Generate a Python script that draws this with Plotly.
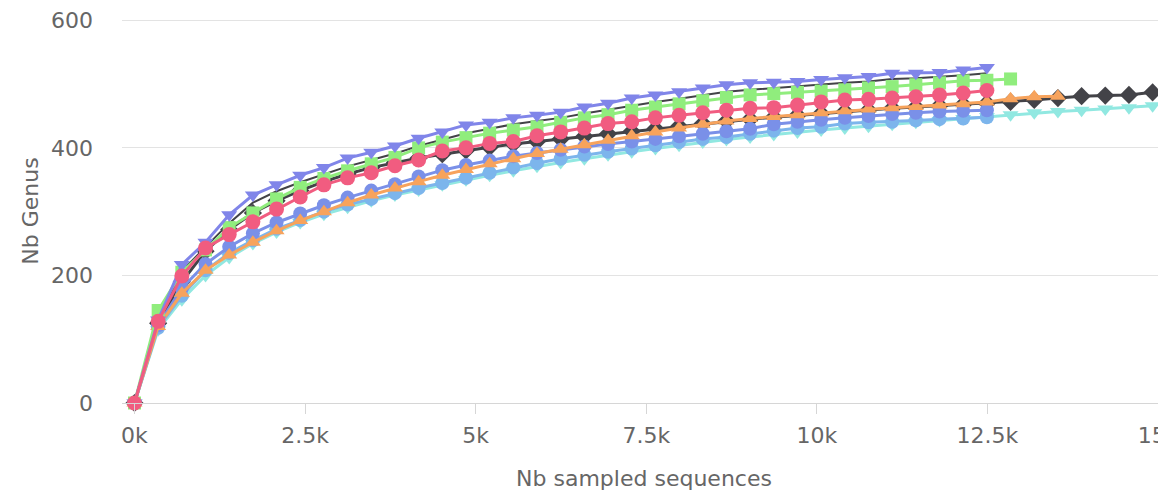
import plotly.graph_objects as go

# Sampling depths (number of sampled sequences) shared by all rarefaction curves
sample_depths = [0, 347, 694, 1041, 1388, 1735, 2082, 2429, 2776, 3123, 3470, 3817,
                 4164, 4511, 4858, 5205, 5552, 5899, 6246, 6593, 6940, 7287, 7634,
                 7981, 8328, 8675, 9022, 9369, 9716, 10063, 10410, 10757, 11104,
                 11451, 11798, 12145, 12492, 12839, 13186, 13533, 13880, 14227,
                 14574, 14921]

upper_dark = [0, 128, 207, 245, 282, 314, 332, 346, 358, 371, 381, 391, 403, 413, 423,
              430, 437, 442, 447, 454, 460, 467, 472, 477, 483, 488, 491, 494, 496, 499,
              502, 504, 508, 509, 511, 514, 517]
teal = [0, 115, 162, 200, 228, 250, 268, 283, 296, 307, 317, 326, 334, 342, 350, 357,
        364, 371, 377, 383, 389, 394, 399, 404, 409, 413, 417, 421, 425, 428, 431, 434,
        437, 440, 443, 446, 449, 452, 455, 457, 459, 461, 463, 466]
light_blue = [0, 118, 168, 208, 235, 255, 273, 287, 300, 311, 320, 329, 337, 345, 353,
              361, 369, 376, 383, 389, 394, 399, 404, 409, 414, 417, 422, 427, 431, 433,
              438, 440, 441, 443, 445, 446, 448]
medium_blue = [0, 122, 180, 218, 245, 266, 283, 297, 310, 322, 333, 343, 355, 365, 373,
               380, 387, 392, 397, 402, 406, 410, 414, 418, 422, 426, 430, 437, 441, 444,
               447, 450, 453, 455, 457, 458, 459]
black = [0, 125, 190, 238, 272, 298, 317, 333, 347, 359, 369, 377, 384, 390, 396, 401,
         406, 410, 414, 418, 422, 426, 430, 434, 438, 442, 445, 448, 451, 454, 457, 459,
         462, 464, 466, 468, 470, 472, 475, 478, 481, 482, 483, 487]
orange = [0, 120, 172, 208, 232, 252, 270, 286, 300, 314, 326, 337, 347, 357, 366, 375,
          383, 391, 398, 405, 412, 419, 425, 431, 437, 442, 446, 449, 452, 455, 458, 461,
          463, 465, 467, 469, 472, 477, 480, 481]
green = [0, 145, 205, 240, 275, 298, 320, 338, 352, 364, 375, 385, 400, 409, 416, 423,
         428, 433, 440, 447, 452, 459, 464, 469, 474, 479, 483, 485, 487, 489, 491, 494,
         496, 499, 502, 505, 506, 508]
purple = [0, 130, 217, 252, 295, 326, 342, 357, 369, 384, 393, 403, 415, 425, 436, 440,
          447, 451, 456, 464, 470, 478, 483, 488, 494, 499, 502, 503, 504, 507, 510, 512,
          517, 517, 518, 522, 526]
pink = [0, 128, 199, 243, 264, 284, 304, 323, 342, 353, 361, 372, 381, 395, 400, 407,
        410, 419, 425, 431, 438, 441, 447, 451, 455, 459, 462, 463, 467, 472, 475, 476,
        478, 480, 483, 486, 490]

x_tick_values = [0, 2500, 5000, 7500, 10000, 12500, 15000]
x_tick_labels = ["0k", "2.5k", "5k", "7.5k", "10k", "12.5k", "15k"]
y_tick_values = [0, 200, 400, 600]

# drawing order: bottom to top  (values, colour, marker symbol or None, marker size, line width)
series = [
    (upper_dark, "#434348", None, 0, 2),
    (black, "#434348", "diamond", 14, 3),
    (teal, "#91e8e1", "triangle-down", 14, 3),
    (light_blue, "#7cb5ec", "circle", 14, 3),
    (medium_blue, "#7a90e8", "circle", 14, 3),
    (orange, "#f7a35c", "triangle-up", 14, 3),
    (green, "#90ed7d", "square", 13, 3),
    (purple, "#8085e9", "triangle-down", 14, 3),
    (pink, "#f15c80", "circle", 15, 3),
]

fig = go.Figure()
for values, color, symbol, size, lw in series:
    if symbol is None:
        fig.add_trace(go.Scatter(
            x=sample_depths[:len(values)], y=values, mode="lines",
            line=dict(color=color, width=lw), cliponaxis=False, showlegend=False,
        ))
    else:
        fig.add_trace(go.Scatter(
            x=sample_depths[:len(values)], y=values, mode="lines+markers",
            line=dict(color=color, width=lw),
            marker=dict(color=color, symbol=symbol, size=size, line=dict(width=0)),
            cliponaxis=False, showlegend=False,
        ))

# The page body adds an 8px offset, so the figure is 8px smaller than the window
font_family = "DejaVu Sans, Verdana, sans-serif"
fig.update_layout(
    width=1158, height=489,
    margin=dict(l=114, r=0, t=11, b=94),
    paper_bgcolor="white", plot_bgcolor="white",
    font=dict(family=font_family, size=22, color="#666666"),
)
fig.update_xaxes(
    range=[-183, 15117], automargin=False,
    tickvals=x_tick_values, ticktext=x_tick_labels,
    showgrid=False, zeroline=False,
    showline=True, linecolor="#d6d6d6", linewidth=1,
    ticks="outside", ticklen=10, tickcolor="#d6d6d6", tickwidth=1,
    ticklabeloverflow="allow", ticklabelstandoff=3,
    tickfont=dict(size=22, color="#666666"),
    title=dict(text="Nb sampled sequences", font=dict(size=22, color="#666666"), standoff=23),
)
fig.update_yaxes(
    range=[0, 602], automargin=False,
    tickvals=y_tick_values,
    showgrid=True, gridcolor="#e3e3e3", gridwidth=1,
    zeroline=False, showline=False,
    ticks="", ticklabelstandoff=28, ticklabeloverflow="allow",
    tickfont=dict(size=22, color="#666666"),
    title=dict(text="Nb Genus", font=dict(size=22, color="#666666"), standoff=6),
)

fig.write_html("out.html")
